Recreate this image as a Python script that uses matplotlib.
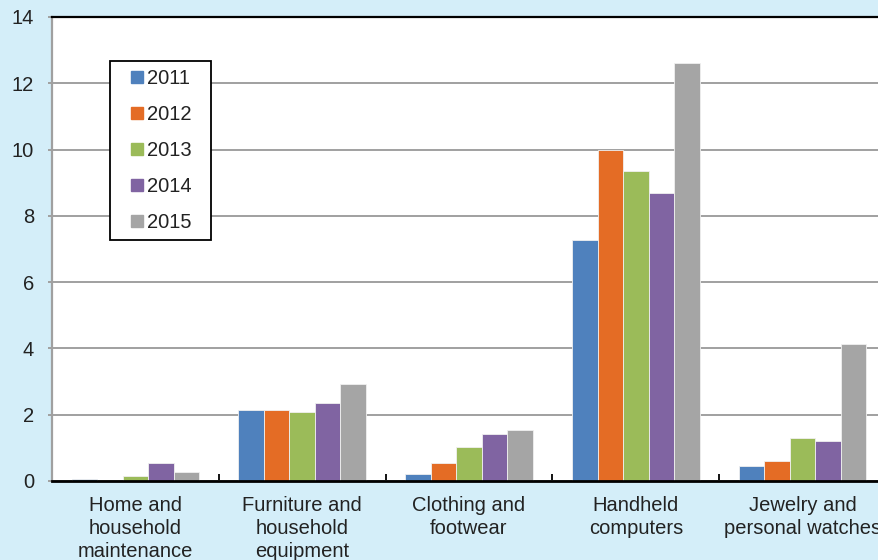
import numpy as np
import matplotlib.pyplot as plt
from matplotlib.lines import Line2D

plt.rcParams['font.family'] = ['Liberation Sans', 'DejaVu Sans']

categories = ['Home and\nhousehold\nmaintenance', 'Furniture and\nhousehold\nequipment',
              'Clothing and\nfootwear', 'Handheld\ncomputers', 'Jewelry and\npersonal watches']
years = ['2011', '2012', '2013', '2014', '2015']
v2011 = [0.07, 2.14, 0.22, 7.28, 0.45]
v2012 = [0.0, 2.14, 0.54, 10.0, 0.61]
v2013 = [0.15, 2.08, 1.04, 9.36, 1.30]
v2014 = [0.54, 2.36, 1.42, 8.69, 1.21]
v2015 = [0.27, 2.92, 1.53, 12.6, 4.14]
series = [v2011, v2012, v2013, v2014, v2015]
colors = ['#4F81BD', '#E46C25', '#9BBB59', '#8064A2', '#A5A5A5']

bg = '#D4EEF9'
fs = 14.5
fig = plt.figure(figsize=(8.79, 5.6), dpi=100, facecolor=bg)
ax = fig.add_axes([52 / 879, 79 / 560, 834 / 879, 464 / 560])
ax.set_facecolor('white')
ax.set_axisbelow(True)

x = np.arange(len(categories))
w = 0.153
for i, (vals, c) in enumerate(zip(series, colors)):
    ax.bar(x + (i - 2) * w, vals, w, color=c, edgecolor='#F0F0F0', linewidth=0.6, zorder=2)

ax.set_xlim(-0.5, 4.5)
ax.set_ylim(0, 14)
ax.set_yticks(range(0, 15, 2))
ax.yaxis.grid(True, color='#A0A0A0', linewidth=1.4)
ax.tick_params(axis='y', colors='#A0A0A0', labelcolor='#222222', labelsize=fs,
               length=3, width=1.4, pad=10)

ax.set_xticks(x)
ax.set_xticklabels(categories, fontsize=fs, color='#222222', linespacing=1.25)
ax.tick_params(axis='x', length=0, pad=11)
ax.set_xticks(x[:-1] + 0.5, minor=True)
ax.tick_params(axis='x', which='minor', direction='in', length=5, width=1.3, color='black')

ax.spines['top'].set_color('black')
ax.spines['top'].set_linewidth(1.6)
ax.spines['bottom'].set_color('black')
ax.spines['bottom'].set_linewidth(2)
ax.spines['left'].set_color('#A0A0A0')
ax.spines['left'].set_linewidth(1.6)
ax.spines['right'].set_visible(False)
for s in ax.spines.values():
    s.set_zorder(3)

handles = [Line2D([], [], marker='s', linestyle='', color=c, markersize=8) for c in colors]
lx, lw = (110 - 52) / 834, 101 / 834
ly = (481 - 61) / 464
leg = ax.legend(handles, years, loc='upper left', bbox_to_anchor=(lx, ly - 0.4, lw, 0.4),
                mode='expand', borderaxespad=0, fontsize=fs, frameon=True, fancybox=False,
                handlelength=1.85, handletextpad=-0.4, labelspacing=0.84, borderpad=0.4,
                labelcolor='#222222', framealpha=1)
leg.get_frame().set_edgecolor('black')
leg.get_frame().set_linewidth(1.3)

fig.savefig('out.png', dpi=100, facecolor=bg)
